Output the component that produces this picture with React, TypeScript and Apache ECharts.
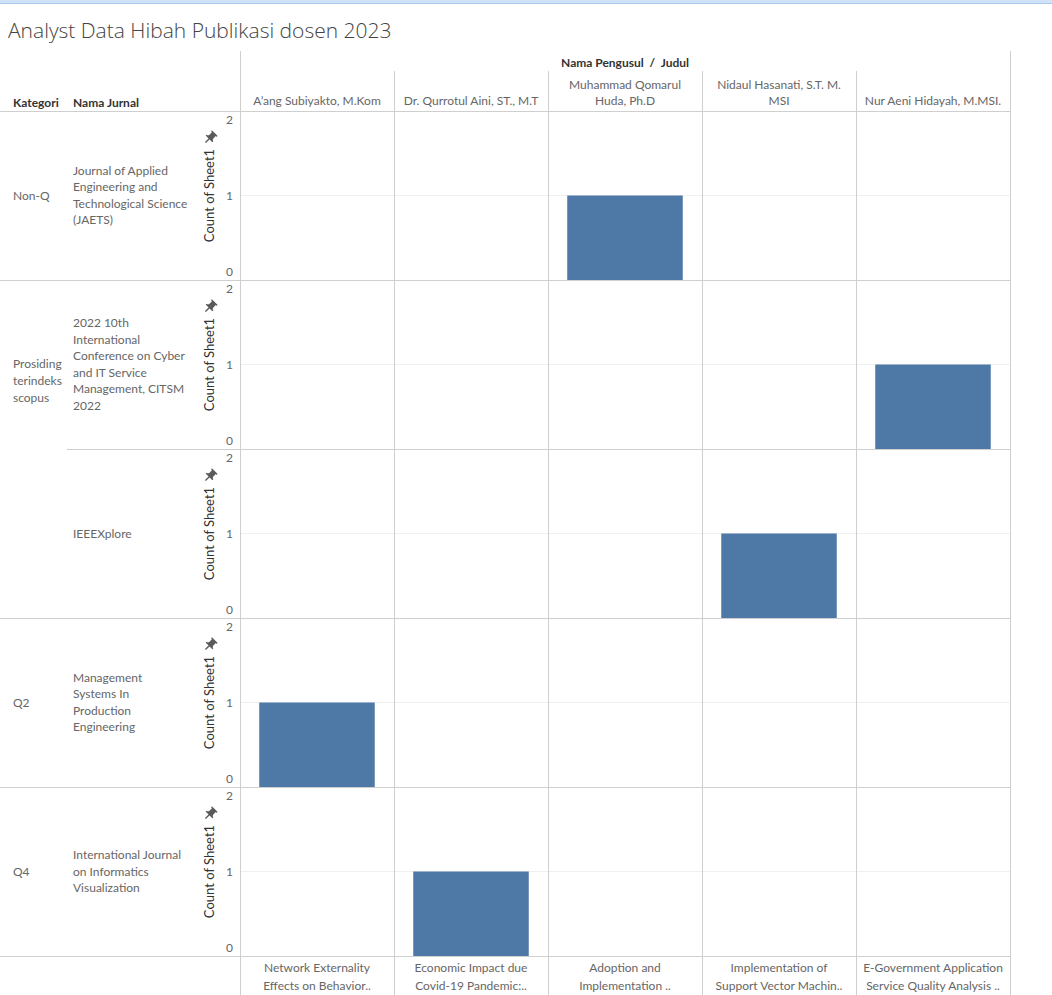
import React, { useEffect, useRef } from "react";
import * as echarts from "echarts";

const title = "Analyst Data Hibah Publikasi dosen 2023";
const kategori = ["Non-Q", "Prosiding\nterindeks\nscopus", "", "Q2", "Q4"];
const kategoriCenterY = [195, 380, 0, 702, 871];
const namaJurnal = [
  "Journal of Applied\nEngineering and\nTechnological Science\n(JAETS)",
  "2022 10th\nInternational\nConference on Cyber\nand IT Service\nManagement, CITSM\n2022",
  "IEEEXplore",
  "Management\nSystems In\nProduction\nEngineering",
  "International Journal\non Informatics\nVisualization",
];
const jurnalCenterY = [195, 364, 533, 702, 871];
const pengusul = [
  "A’ang Subiyakto, M.Kom",
  "Dr. Qurrotul Aini, ST., M.T",
  "Muhammad Qomarul\nHuda, Ph.D",
  "Nidaul Hasanati, S.T. M.\nMSI",
  "Nur Aeni Hidayah, M.MSI.",
];
const judul = [
  "Network Externality\nEffects on Behavior..",
  "Economic Impact due\nCovid-19 Pandemic:..",
  "Adoption and\nImplementation ..",
  "Implementation of\nSupport Vector Machin..",
  "E-Government Application\nService Quality Analysis ..",
];
// Count of Sheet1 per row (jurnal) and column (pengusul / judul)
const counts = [
  [0, 0, 1, 0, 0],
  [0, 0, 0, 0, 1],
  [0, 0, 0, 1, 0],
  [1, 0, 0, 0, 0],
  [0, 1, 0, 0, 0],
];
const yTicks = [0, 1, 2];

const PIN =
  "M16,9V4l1,0c0.55,0,1-0.45,1-1v0c0-0.55-0.45-1-1-1H7C6.45,2,6,2.45,6,3v0c0,0.55,0.45,1,1,1l1,0v5c0,1.66-1.34,3-3,3h0v2h5.97v7l1,1l1-1v-7H19v-2h0C17.34,12,16,10.66,16,9z";

export default function App() {
  const ref = useRef<HTMLDivElement>(null);
  useEffect(() => {
    if (!ref.current) return;
    echarts.graphic.registerShape("pin", echarts.graphic.extendPath(PIN, {}));
    const chart = echarts.init(ref.current, null, { renderer: "svg" });

    const FONT = "Lato";
    const LEFT = 240;
    const COLW = 154;
    const TOP = 111;
    const ROWH = 169;
    const RIGHT = LEFT + COLW * 5;
    const LINE = "#cfcfcf";
    const nRows = counts.length;

    const grids: any[] = [];
    const xAxes: any[] = [];
    const yAxes: any[] = [];
    const series: any[] = [];

    for (let i = 0; i < nRows; i++) {
      grids.push({ left: LEFT, top: TOP + ROWH * i, width: COLW * 5, height: ROWH, containLabel: false });
      const isTop = i === 0;
      const isBottom = i === nRows - 1;
      xAxes.push({
        type: "category",
        gridIndex: i,
        position: isTop ? "top" : "bottom",
        data: isTop ? pengusul : judul,
        axisLine: { show: false },
        axisTick: { show: false },
        splitLine: { show: false },
        axisLabel: {
          show: isTop || isBottom,
          interval: 0,
          fontFamily: FONT,
          fontSize: 12,
          color: "#666",
          lineHeight: isTop ? 16 : 18,
          margin: isTop ? 3 : 2,
        },
      });
      yAxes.push({
        type: "value",
        gridIndex: i,
        min: 0,
        max: 2,
        interval: 1,
        name: "Count of Sheet1",
        nameLocation: "middle",
        nameRotate: 90,
        nameGap: 21,
        nameTextStyle: { fontFamily: FONT, fontSize: 13, color: "#333" },
        axisLine: { show: false },
        axisTick: { show: false },
        splitLine: { show: true, lineStyle: { color: "#f0f0f0", width: 1 } },
        axisLabel: {
          margin: 7,
          formatter: (v: number) =>
            v === yTicks[2] ? `{t|${v}}` : v === yTicks[0] ? `{b|${v}}` : `{m|${v}}`,
          rich: {
            t: { fontFamily: FONT, fontSize: 12, color: "#666", padding: [16, 0, 0, 0] },
            b: { fontFamily: FONT, fontSize: 12, color: "#666", padding: [0, 0, 18, 0] },
            m: { fontFamily: FONT, fontSize: 12, color: "#666" },
          },
        },
      });
      series.push({
        type: "bar",
        xAxisIndex: i,
        yAxisIndex: i,
        barWidth: "75%",
        itemStyle: { color: "#4e79a7" },
        data: counts[i].map((v) => (v === 0 ? null : v)),
      });
    }

    const graphics: any[] = [];
    // top bar of window
    graphics.push({ type: "rect", shape: { x: 0, y: 0, width: 1052, height: 3 }, style: { fill: "#cfe2f6" }, z: 10 });
    graphics.push({ type: "line", shape: { x1: 0, y1: 3.5, x2: 1052, y2: 3.5 }, style: { stroke: "#a9cbed", lineWidth: 1 }, z: 10 });
    // title
    graphics.push({
      type: "text",
      x: 8,
      y: 30,
      style: { text: title, fontFamily: "Open Sans", fontWeight: 300, fontSize: 21, fill: "#444", textVerticalAlign: "middle" },
    });
    // headers
    graphics.push({
      type: "text",
      x: 625,
      y: 62,
      style: { text: "Nama Pengusul  /  Judul", fontFamily: FONT, fontWeight: "bold", fontSize: 12, fill: "#333", textAlign: "center", textVerticalAlign: "middle" },
    });
    graphics.push({
      type: "text",
      x: 13,
      y: 102,
      style: { text: "Kategori", fontFamily: FONT, fontWeight: "bold", fontSize: 12, fill: "#333", textVerticalAlign: "middle" },
    });
    graphics.push({
      type: "text",
      x: 73,
      y: 102,
      style: { text: "Nama Jurnal", fontFamily: FONT, fontWeight: "bold", fontSize: 12, fill: "#333", textVerticalAlign: "middle" },
    });
    // row labels
    for (let i = 0; i < nRows; i++) {
      if (kategori[i]) {
        graphics.push({
          type: "text",
          x: 13,
          y: kategoriCenterY[i],
          style: { text: kategori[i], fontFamily: FONT, fontSize: 12, fill: "#666", lineHeight: 17, textVerticalAlign: "middle" },
        });
      }
      graphics.push({
        type: "text",
        x: 73,
        y: jurnalCenterY[i],
        style: { text: namaJurnal[i], fontFamily: FONT, fontSize: 12, fill: "#666", lineHeight: 16.5, textVerticalAlign: "middle" },
      });
      // pin icon
      graphics.push({
        type: "pin",
        x: 210 - 12,
        y: TOP + ROWH * i + 27 - 12,
        originX: 12,
        originY: 12,
        scaleX: 0.68,
        scaleY: 0.68,
        rotation: -Math.PI / 4,
        style: { fill: "#5a5a5a" },
      });
    }
    // horizontal lines
    for (let i = 0; i <= nRows; i++) {
      const y = TOP + ROWH * i + 0.5;
      const x1 = i === 2 ? 67 : 0;
      graphics.push({ type: "line", shape: { x1, y1: y, x2: RIGHT, y2: y }, style: { stroke: LINE, lineWidth: 1 }, z: 5 });
    }
    // vertical lines
    for (let k = 0; k <= 5; k++) {
      const x = LEFT + COLW * k + 0.5;
      const y1 = k === 0 || k === 5 ? 51 : 71;
      graphics.push({ type: "line", shape: { x1: x, y1, x2: x, y2: 995 }, style: { stroke: LINE, lineWidth: 1 }, z: 5 });
    }

    chart.setOption({
      animation: false,
      backgroundColor: "#fff",
      grid: grids,
      xAxis: xAxes,
      yAxis: yAxes,
      series,
      graphic: graphics,
    });
    return () => chart.dispose();
  }, []);
  return <div ref={ref} style={{ position: "fixed", left: 0, top: 0, width: 1052, height: 995 }} />;
}
